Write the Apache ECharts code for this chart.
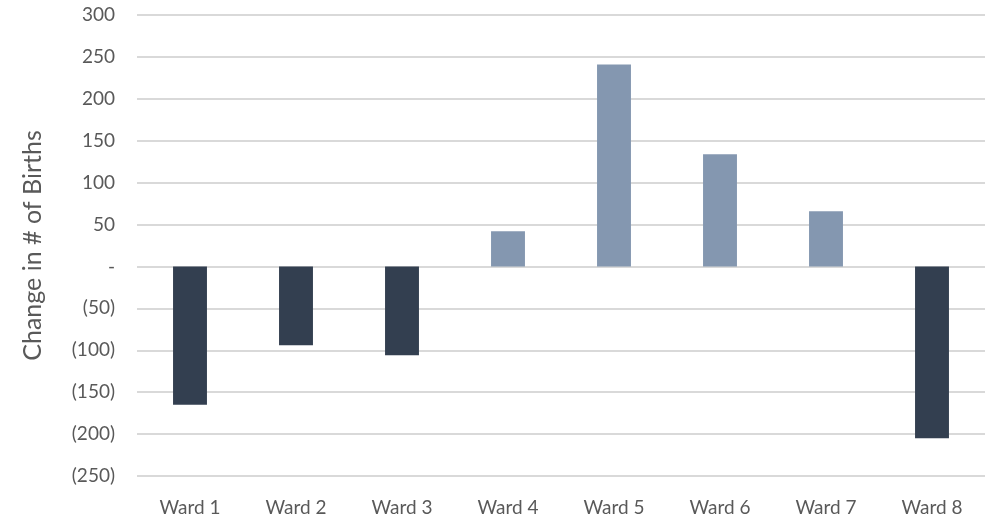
<!DOCTYPE html>
<html>
<head>
<meta charset="utf-8">
<script src="https://cdn.jsdelivr.net/npm/echarts@6/dist/echarts.min.js"></script>
<style>
  html, body { margin: 0; padding: 0; background: #fff; }
  #chart { width: 997px; height: 519px; }
</style>
</head>
<body>
<div id="chart"></div>
<script>
var wards = ['Ward 1', 'Ward 2', 'Ward 3', 'Ward 4', 'Ward 5', 'Ward 6', 'Ward 7', 'Ward 8'];
var birthChange = [-165, -94, -106, 42, 241, 134, 66, -205];

var chart = echarts.init(document.getElementById('chart'));
var option = {
    animation: false,
    grid: { left: 137, right: 12, top: 15, bottom: 43 },
    xAxis: {
        type: 'category',
        data: wards,
        axisLine: { show: false },
        axisTick: { show: false },
        axisLabel: { color: '#595959', fontSize: 19, fontFamily: 'Lato', margin: 22 }
    },
    yAxis: {
        type: 'value',
        min: -250,
        max: 300,
        interval: 50,
        name: 'Change in # of Births',
        nameLocation: 'middle',
        nameGap: 92,
        nameTextStyle: { color: '#595959', fontSize: 25, fontFamily: 'Lato' },
        axisLine: { show: false },
        axisTick: { show: false },
        axisLabel: {
            color: '#595959', fontSize: 19, fontFamily: 'Lato', margin: 22,
            formatter: function (v) {
                if (v === 0) return '-';
                return v < 0 ? '(' + (-v) + ')' : String(v);
            }
        },
        splitLine: { lineStyle: { color: '#d9d9d9', width: 2 } }
    },
    series: [{
        type: 'bar',
        data: birthChange,
        barWidth: '32%',
        itemStyle: {
            color: function (p) { return p.value < 0 ? '#333f50' : '#8497b0'; }
        }
    }]
};
chart.setOption(option);
</script>
</body>
</html>
